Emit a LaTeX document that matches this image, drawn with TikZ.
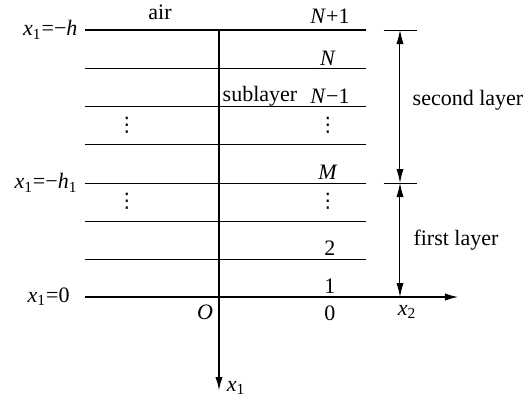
\documentclass[tikz,border=0pt]{standalone}
\usepackage{fontspec}
\setmainfont{Liberation Serif}
\newfontfamily\symfont{DejaVu Sans}
\usetikzlibrary{arrows.meta}
\newcommand{\xone}{\textit{x}\textsubscript{1}}
\newcommand{\xtwo}{\textit{x}\textsubscript{2}}

\begin{document}
\begin{tikzpicture}[x=0.5pt, y=-0.5pt, line width=0.5pt,
    font=\fontsize{11}{13}\selectfont,
    axis/.style={line width=1pt, -{Latex[length=7pt,width=3.6pt]}},
    dim/.style={{Latex[length=7pt,width=3.6pt]}-{Latex[length=7pt,width=3.6pt]}},
    lbl/.style={inner sep=1pt},
    dots/.style={inner sep=0pt, font=\symfont\fontsize{10}{10}\selectfont}]
    \useasboundingbox (0,0) rectangle (532,402);
    % named points
    \coordinate (topW) at (85,30);
    \coordinate (topE) at (366,30);
    \coordinate (top) at (219,30);
    \coordinate (botW) at (85,297);
    \coordinate (O) at (219,297);
    \coordinate (x2end) at (459,297);
    \coordinate (x1end) at (219,391);
    % sublayer lines
    \foreach \y in {68,106,144,183,221,259}{
      \draw (85,\y) -- (366,\y);
    }
    % top surface
    \draw[line width=1pt] (topW) -- (topE);
    % axes
    \draw[axis] (botW) -- (x2end);
    \draw[axis] (top) -- (x1end);
    % dimension marks
    \coordinate (dTop) at (400,30);
    \coordinate (dMid) at (400,183);
    \coordinate (dBot) at (400,297);
    \draw (384,30) -- (417,30);
    \draw (384,183) -- (417,183);
    \draw[dim] (dTop) -- (dMid);
    \draw[dim] (dMid) -- (dBot);
    % labels left
    \node[lbl, anchor=east] (hTop) at (80,30) {\xone=−\textit{h}};
    \node[lbl, anchor=east] (hOne) at (80,183) {\xone=−\textit{h}\textsubscript{1}};
    \node[lbl, anchor=east] (hZero) at (72,297) {\xone=0};
    \node[lbl] (air) at (160,12) {air};
    \node[lbl] (sub) at (260,96) {sublayer};
    % layer numbers
    \node[lbl] (nN1) at (330,16) {\textit{N}+1};
    \node[lbl] (nN) at (328,58) {\textit{N}};
    \node[lbl] (nNm) at (330,96) {\textit{N}−1};
    \node[lbl] (nM) at (328,172) {\textit{M}};
    \node[lbl] (n2) at (330,248) {2};
    \node[lbl] (n1) at (330,286) {1};
    \node[lbl] (n0) at (330,313) {0};
    % dots
    \foreach \x/\y/\nm in {127/125/dA, 328/125/dB, 127/201/dC, 328/201/dD}{
      \node[dots] (\nm) at (\x,\y) {⋮};
    }
    % axis labels
    \node[lbl] (oLbl) at (205,312) {\textit{O}};
    \node[lbl] (x2Lbl) at (407,312) {\xtwo};
    \node[lbl] (x1Lbl) at (236,388) {\xone};
    % layer names
    \node[lbl] (second) at (468,100) {second layer};
    \node[lbl] (first) at (456,240) {first layer};
\end{tikzpicture}
\end{document}
